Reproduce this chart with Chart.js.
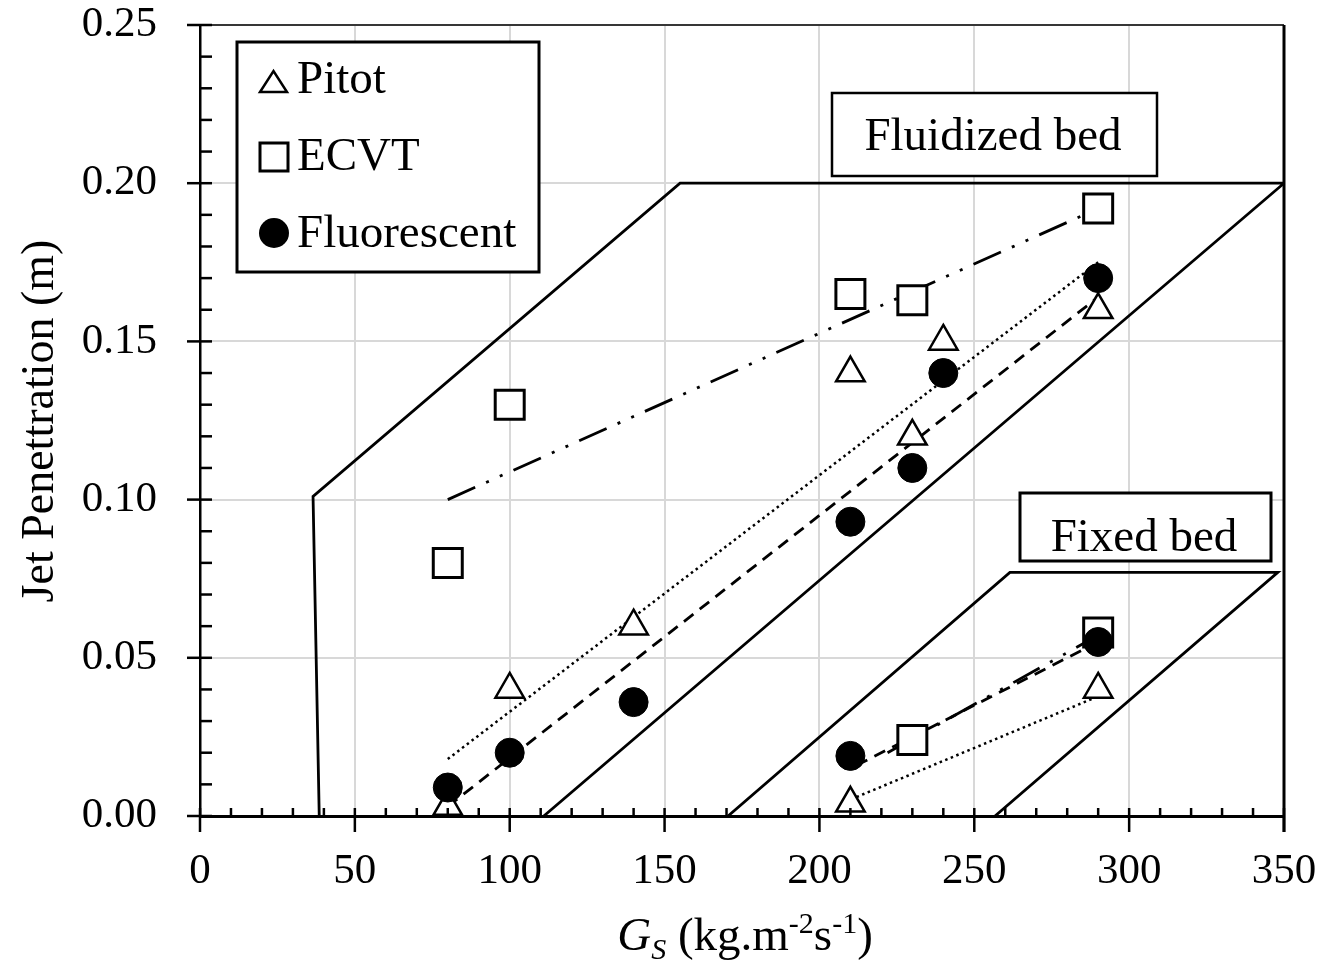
<!DOCTYPE html>
<html>
<head>
<meta charset="utf-8">
<script src="https://cdn.jsdelivr.net/npm/chart.js@4/dist/chart.umd.min.js"></script>
<style>
  body { margin: 0; background: #fff; }
</style>
</head>
<body>
<canvas id="grafico" width="1327" height="966"></canvas>
<script>
const ctx = document.getElementById('grafico');

// measured points, fluidized bed
let fluidGs = [80, 100, 140, 210, 230, 240, 290];
let pitotFluid = [0.003, 0.040, 0.060, 0.140, 0.120, 0.150, 0.160];
let fluorFluid = [0.009, 0.020, 0.036, 0.093, 0.110, 0.140, 0.170];
let ecvtFluidGs = [80, 100, 210, 230, 290];
let ecvtFluid = [0.080, 0.130, 0.165, 0.163, 0.192];

// measured points, fixed bed
let fixedGs = [210, 290];
let pitotFixed = [0.004, 0.040];
let fluorFixed = [0.019, 0.055];
let ecvtFixedGs = [230, 290];
let ecvtFixed = [0.024, 0.058];

// trend lines
let trendDotGs = [80, 290];
let trendDot = [0.018, 0.175];
let trendDashGs = [80, 290];
let trendDash = [0.003, 0.164];
let trendDashDotGs = [80, 290];
let trendDashDot = [0.100, 0.192];
let fixedDotGs = [212, 288];
let fixedDot = [0.006, 0.037];
let fixedDashGs = [212, 288];
let fixedDash = [0.016, 0.054];
let fixedDashDotGs = [222, 288];
let fixedDashDot = [0.020, 0.056];

// regime boundaries
let fluidBoundGs = [38.5, 36.5, 155, 350, 111];
let fluidBound = [0, 0.101, 0.200, 0.200, 0];
let fixedBoundGs = [170.5, 261.5, 348, 256.7];
let fixedBound = [0, 0.077, 0.077, 0];

let xTicks = [0, 50, 100, 150, 200, 250, 300, 350];
let yTicks = [0, 0.05, 0.10, 0.15, 0.20, 0.25];

const pts = (xs, ys) => xs.map((x, i) => ({x: x, y: ys[i]}));
const serif = "'Liberation Serif', 'Times New Roman', serif";

const marcas = (label, data, style, radius, fill, bw) => ({
  label: label, data: data, showLine: false,
  pointStyle: style, pointRadius: radius, pointHoverRadius: radius,
  backgroundColor: fill, borderColor: '#000', pointBorderWidth: bw
});
const linha = (data, dash, width) => ({
  data: data, showLine: true, pointRadius: 0, pointHoverRadius: 0,
  borderColor: '#000', borderWidth: width, borderDash: dash, fill: false, tension: 0
});

const dot = [2.5, 3.5];
const dashed = [12, 8];
const dashDot = [30, 12, 3, 12, 3, 12];

const moldura = {
  id: 'moldura',
  beforeDraw(chart) {
    const c = chart.ctx;
    c.save();
    c.fillStyle = '#fff';
    c.fillRect(0, 0, chart.width, chart.height);
    c.restore();
  },
  afterDatasetsDraw(chart) {
    const c = chart.ctx;
    const a = chart.chartArea;
    const sx = chart.scales.x, sy = chart.scales.y;
    c.save();
    c.strokeStyle = '#000';
    c.fillStyle = '#000';

    // top and right frame
    c.lineWidth = 1.5;
    c.beginPath(); c.moveTo(a.left - 13, a.top); c.lineTo(a.right, a.top); c.stroke();
    c.lineWidth = 3;
    c.beginPath(); c.moveTo(a.right, a.top); c.lineTo(a.right, a.bottom + 16); c.stroke();

    // ticks
    c.lineWidth = 2.5;
    for (let v = 0; v <= 350; v += 10) {
      const px = sx.getPixelForValue(v);
      c.beginPath();
      c.moveTo(px, a.bottom - 8);
      c.lineTo(px, v % 50 === 0 ? a.bottom + 16 : a.bottom);
      c.stroke();
    }
    for (let i = 0; i <= 25; i++) {
      const py = sy.getPixelForValue(i / 100);
      c.beginPath();
      c.moveTo(i % 5 === 0 ? a.left - 13 : a.left, py);
      c.lineTo(a.left + 12, py);
      c.stroke();
    }

    // boxes with labels
    const caixa = (x0, y0, x1, y1, lw) => {
      c.fillStyle = '#fff';
      c.fillRect(x0, y0, x1 - x0, y1 - y0);
      c.lineWidth = lw;
      c.strokeStyle = '#000';
      c.strokeRect(x0, y0, x1 - x0, y1 - y0);
      c.fillStyle = '#000';
    };
    c.font = '47px ' + serif;
    c.textBaseline = 'alphabetic';

    caixa(832, 93, 1157, 176, 2.5);
    c.textAlign = 'center';
    c.fillText('Fluidized bed', 993, 150);

    caixa(1020, 493, 1271, 561, 3);
    c.fillText('Fixed bed', 1144, 551);

    // legend
    caixa(237, 42, 539, 272, 3);
    c.textAlign = 'left';
    c.lineWidth = 2.5;
    c.beginPath();
    c.moveTo(260, 92); c.lineTo(287, 92); c.lineTo(273.5, 71); c.closePath();
    c.fillStyle = '#fff'; c.fill(); c.stroke();
    c.lineWidth = 3;
    c.fillRect(260, 143, 28, 28); c.strokeRect(260, 143, 28, 28);
    c.fillStyle = '#000';
    c.beginPath(); c.arc(274, 233, 15, 0, Math.PI * 2); c.fill();
    c.fillText('Pitot', 297, 93);
    c.fillText('ECVT', 297, 170);
    c.fillText('Fluorescent', 297, 247);

    // y title
    c.save();
    c.translate(53, 421);
    c.rotate(-Math.PI / 2);
    c.textAlign = 'center';
    c.font = '46px ' + serif;
    c.fillText('Jet Penettration (m)', 0, 0);
    c.restore();

    // x title with sub/superscripts
    const partes = [
      {t: 'G', f: 'italic 47px ', dy: 0},
      {t: 'S', f: 'italic 30px ', dy: 9},
      {t: ' (kg.m', f: '47px ', dy: 0},
      {t: '-2', f: '30px ', dy: -17},
      {t: 's', f: '47px ', dy: 0},
      {t: '-1', f: '30px ', dy: -17},
      {t: ')', f: '47px ', dy: 0}
    ];
    let total = 0;
    partes.forEach(p => { c.font = p.f + serif; p.w = c.measureText(p.t).width; total += p.w; });
    let x = (a.left + a.right) / 2 + 3 - total / 2;
    c.textAlign = 'left';
    partes.forEach(p => {
      c.font = p.f + serif;
      c.fillText(p.t, x, 950 + p.dy);
      x += p.w;
    });
    c.restore();
  }
};

let grafico = new Chart(ctx, {
  type: 'scatter',
  data: {
    datasets: [
      marcas('Fluorescent', pts(fluidGs, fluorFluid).concat(pts(fixedGs, fluorFixed)), 'circle', 14.5, '#000', 1),
      marcas('ECVT', pts(ecvtFluidGs, ecvtFluid).concat(pts(ecvtFixedGs, ecvtFixed)), 'rect', 20.5, '#fff', 3),
      marcas('Pitot', pts(fluidGs, pitotFluid).concat(pts(fixedGs, pitotFixed)), 'triangle', 16.5, '#fff', 2.5),
      linha(pts(trendDotGs, trendDot), dot, 2.5),
      linha(pts(trendDashGs, trendDash), dashed, 2.8),
      linha(pts(trendDashDotGs, trendDashDot), dashDot, 2.8),
      linha(pts(fixedDotGs, fixedDot), dot, 2.5),
      linha(pts(fixedDashGs, fixedDash), dashed, 2.8),
      linha(pts(fixedDashDotGs, fixedDashDot), dashDot, 2.8),
      linha(pts(fluidBoundGs, fluidBound), [], 2.8),
      linha(pts(fixedBoundGs, fixedBound), [], 2.8)
    ]
  },
  options: {
    responsive: false,
    animation: false,
    layout: { padding: { left: 0, right: 43, top: 25, bottom: 0 } },
    plugins: { legend: { display: false }, tooltip: { enabled: false } },
    scales: {
      x: {
        type: 'linear', min: 0, max: 350,
        afterBuildTicks: s => { s.ticks = xTicks.map(v => ({value: v})); },
        afterFit: s => { s.height = 150; },
        ticks: { font: { family: serif, size: 43, lineHeight: 1.1 }, color: '#000', padding: 0 },
        grid: { color: '#d8d8d8', lineWidth: 2, drawTicks: true, tickLength: 32, tickColor: 'rgba(0,0,0,0)' },
        border: { color: '#000', width: 3 }
      },
      y: {
        min: 0, max: 0.25,
        afterBuildTicks: s => { s.ticks = yTicks.map(v => ({value: v})); },
        afterFit: s => { s.width = 200; },
        ticks: {
          font: { family: serif, size: 43, lineHeight: 1.1 }, color: '#000', padding: 0,
          callback: v => v.toFixed(2)
        },
        grid: { color: '#d8d8d8', lineWidth: 2, drawTicks: true, tickLength: 43, tickColor: 'rgba(0,0,0,0)' },
        border: { color: '#000', width: 2.5 }
      }
    }
  },
  plugins: [moldura]
});
</script>
</body>
</html>
